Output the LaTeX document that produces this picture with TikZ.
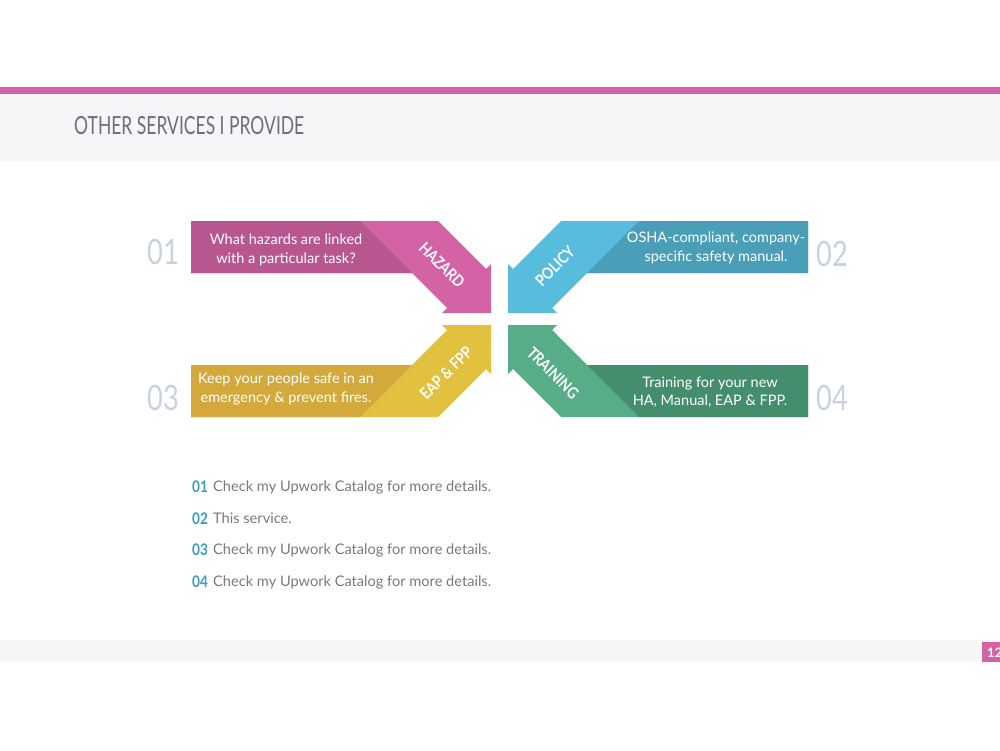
\documentclass[tikz,border=0pt]{standalone}
\usepackage{fontspec}
\setmainfont{Lato}
\definecolor{pinkA}{HTML}{D463A6}
\definecolor{pinkB}{HTML}{B8568F}
\definecolor{blueA}{HTML}{58BCDD}
\definecolor{blueB}{HTML}{4A9EB8}
\definecolor{yelA}{HTML}{E2C13E}
\definecolor{yelB}{HTML}{D4A93C}
\definecolor{grnA}{HTML}{56AD87}
\definecolor{grnB}{HTML}{448D6D}
\definecolor{hdrgrey}{HTML}{F5F6F8}
\definecolor{titlegrey}{HTML}{6D6F79}
\definecolor{numgrey}{HTML}{C8D1E0}
\definecolor{teal}{HTML}{3A9DC0}
\definecolor{listgrey}{HTML}{7A7A7A}
\newcommand\svcarrow[3]{%
  \begin{scope}[shift={(499.5,319)},#1]
    \fill[#2] (-308.5,-98) -- (-61.5,-98) -- (-13.5,-50) -- (-8.5,-55) -- (-8.5,-6)
      -- (-57.5,-6) -- (-52.5,-11) -- (-87.5,-46) -- (-308.5,-46) -- cycle;
    \fill[#3] (-308.5,-98) -- (-139.5,-98) -- (-87.5,-46) -- (-308.5,-46) -- cycle;
  \end{scope}}
\begin{document}
\begin{tikzpicture}[x=1pt,y=-1pt,
  boxtext/.style={text=white,align=center,inner sep=0pt,font=\fontsize{14.5}{18.5}\selectfont},
  bandlabel/.style={text=white,inner sep=0pt,font=\fontsize{16}{16}\selectfont\bfseries},
  bignum/.style={text=numgrey,inner sep=0pt,font=\fontsize{35}{35}\selectfont},
  listnum/.style={text=teal,anchor=base west,inner sep=0pt,font=\fontsize{16}{16}\selectfont\bfseries},
  listtext/.style={text=listgrey,anchor=base west,inner sep=0pt,font=\fontsize{14.6}{14.6}\selectfont}]
\useasboundingbox (0,0) rectangle (1000,750);
\fill[white] (0,0) rectangle (1000,750);
% header
\fill[hdrgrey] (0,94) rectangle (1000,161);
\fill[pinkA] (0,87) rectangle (1000,94);
\node[anchor=base west,inner sep=0pt,text=titlegrey,font=\fontsize{25}{25}\selectfont] (title) at (74,134)
  {\scalebox{0.7}[1]{OTHER SERVICES I PROVIDE}};
% footer
\fill[hdrgrey] (0,640) rectangle (1000,662);
\fill[pinkA] (982,642) rectangle (1000,662);
\begin{scope}
  \clip (0,0) rectangle (1000,750);
  \node[anchor=west,inner sep=0pt,text=white,font=\fontsize{13}{13}\selectfont\bfseries] (page) at (987,652.5) {12};
\end{scope}
% arrows
\svcarrow{}{pinkA}{pinkB}
\svcarrow{xscale=-1}{blueA}{blueB}
\svcarrow{yscale=-1}{yelA}{yelB}
\svcarrow{xscale=-1,yscale=-1}{grnA}{grnB}
% arrow texts
\node[boxtext] (t1) at (286,250) {What hazards are linked\\with a particular task?};
\node[boxtext] (t2) at (716,248) {OSHA-compliant, company-\\specific safety manual.};
\node[boxtext] (t3) at (286,389) {Keep your people safe in an\\emergency \& prevent fires.};
\node[boxtext] (t4) at (710,392) {Training for your new\\HA, Manual, EAP \& FPP.};
% band labels
\node[bandlabel,rotate=-45] (l1) at (442,265) {\scalebox{0.85}[1]{HAZARD}};
\node[bandlabel,rotate=45] (l2) at (555,266) {\scalebox{0.85}[1]{POLICY}};
\node[bandlabel,rotate=45] (l3) at (446,373) {\scalebox{0.85}[1]{EAP \& FPP}};
\node[bandlabel,rotate=-45] (l4) at (553,373) {\scalebox{0.85}[1]{TRAINING}};
% big numbers
\node[bignum] (n1) at (163,252) {\scalebox{0.78}[1]{01}};
\node[bignum] (n2) at (832,254) {\scalebox{0.78}[1]{02}};
\node[bignum] (n3) at (163,398) {\scalebox{0.78}[1]{03}};
\node[bignum] (n4) at (832,398) {\scalebox{0.78}[1]{04}};
% list
\node[listnum] (a1) at (192,492) {\scalebox{0.85}[1]{01}};
\node[listtext] (b1) at (213,491) {Check my Upwork Catalog for more details.};
\node[listnum] (a2) at (192,524) {\scalebox{0.85}[1]{02}};
\node[listtext] (b2) at (213,523) {This service.};
\node[listnum] (a3) at (192,555) {\scalebox{0.85}[1]{03}};
\node[listtext] (b3) at (213,554) {Check my Upwork Catalog for more details.};
\node[listnum] (a4) at (192,587) {\scalebox{0.85}[1]{04}};
\node[listtext] (b4) at (213,586) {Check my Upwork Catalog for more details.};
\end{tikzpicture}
\end{document}
